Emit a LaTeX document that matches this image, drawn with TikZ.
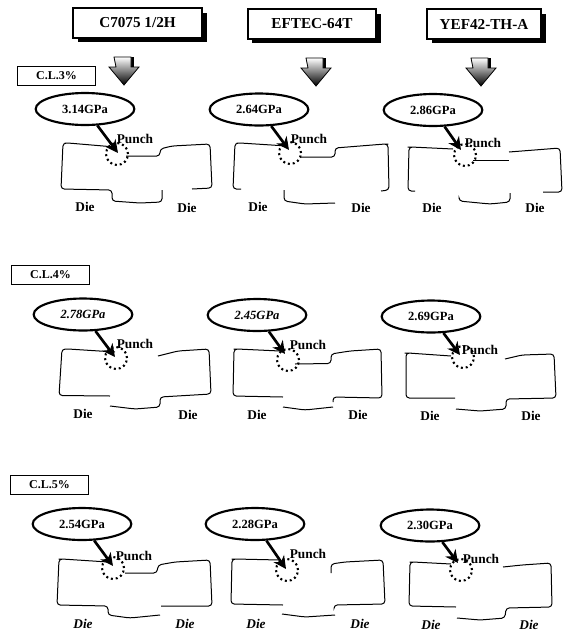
\documentclass[tikz,border=0pt]{standalone}
\usepackage{fontspec}
\setmainfont{Liberation Serif}
\usetikzlibrary{shapes.geometric,arrows.meta,shadows}
\tikzset{
  headbox/.style={draw,line width=1.4pt,fill=white,minimum height=22pt,inner sep=0pt,font=\fontsize{11.4}{12}\selectfont\bfseries,
    drop shadow={shadow xshift=3.5pt,shadow yshift=-3.5pt,opacity=1,fill=black}},
  clbox/.style={draw,line width=.7pt,fill=white,minimum width=58pt,minimum height=14.2pt,inner sep=0pt,font=\fontsize{9}{10}\selectfont\bfseries},
  gpa/.style={ellipse,draw,line width=1.6pt,fill=white,minimum width=74pt,minimum height=24pt,inner sep=0pt,font=\fontsize{9.4}{10}\selectfont\bfseries},
  spot/.style={circle,draw,line width=1.6pt,dash pattern=on 1.5pt off 2.2pt,minimum size=16.5pt,inner sep=0pt},
  lab/.style={inner sep=0pt,font=\fontsize{10}{11}\selectfont\bfseries},
  labi/.style={inner sep=0pt,font=\fontsize{10}{11}\selectfont\bfseries\itshape},
  outline/.style={line width=.75pt,rounded corners=2.5pt},
  conn/.style={line width=2pt,-{Stealth[length=9.5pt,width=9.5pt]}},
  blockarrow/.pic={
    \fill[black] (2,-29) -- (10,-29) -- (10,-18) -- (2,-18) -- cycle;
    \shade[top color=white,middle color=gray!45,bottom color=black,draw=black,line width=.6pt]
      (-10,-29) -- (7,-29) -- (7,-19) -- (15,-19) -- (0,-1) -- (-15,-19) -- (-8,-19) -- cycle;
  },
}
\begin{document}
\begin{tikzpicture}[x=.75pt,y=-.75pt]
\useasboundingbox (0,0) rectangle (573,643);
% headers
\node[headbox,minimum width=96.5pt] (h1) at (137.5,23) {C7075 1/2H};
\node[headbox,minimum width=96.5pt] (h2) at (312,24) {EFTEC-64T};
\node[headbox,minimum width=85.5pt] (h3) at (484,24) {YEF42-TH-A};
\pic at (124,86) {blockarrow};
\pic at (316,87) {blockarrow};
\pic at (481,87) {blockarrow};
% C.L. labels
\node[clbox] (cl3) at (56.5,76) {C.L.3\%};
\node[clbox] (cl4) at (50.5,274.5) {C.L.4\%};
\node[clbox] (cl5) at (49.5,485) {C.L.5\%};

% --- panel 1
\draw[outline] (115,147) -- (68,143) -- (63,143) -- (61,189) -- (112,190) -- (112,201) -- (140,203) -- (162,202) -- (162,190);
\draw[outline] (192,189) -- (212,188) -- (210,144) -- (172,146) -- (160,149) -- (160,156) -- (126,156);
\node[gpa] (e1) at (85,109) {3.14GPa};
\node[spot] (c1) at (117,154) {};
\coordinate (t1) at (118,153);
\draw[conn] (e1) -- (t1);
\node[lab] (p1) at (135,139) {Punch};
\node[lab] (d1a) at (85,207) {Die};
\node[lab] (d1b) at (187,208) {Die};
% --- panel 2
\draw[outline] (287,146) -- (240,143) -- (235,143) -- (233,189) -- (241,189);
\draw[outline] (284,190) -- (284,201) -- (305,204) -- (335,203);
\draw[outline] (300,157) -- (335,157) -- (335,148) -- (385,144) -- (388,144) -- (389,190) -- (381,191);
\node[gpa] (e2) at (259,109.5) {2.64GPa};
\node[spot] (c2) at (290,153) {};
\coordinate (t2) at (289,150);
\draw[conn] (e2) -- (t2);
\node[lab] (p2) at (309,139) {Punch};
\node[lab] (d2a) at (258,207) {Die};
\node[lab] (d2b) at (361,208) {Die};
% --- panel 3
\draw[outline] (453,149) -- (411,147) -- (409,147) -- (408,191) -- (415,191);
\draw[outline] (459,199) -- (459,201) -- (490,204) -- (510,202) -- (510,193);
\draw[outline] (473,160) -- (509,160);
\draw[outline] (509,152) -- (560,148) -- (562,192) -- (543,192);
\node[gpa] (e3) at (433,110) {2.86GPa};
\node[spot] (c3) at (465,155) {};
\coordinate (t3) at (461,150);
\draw[conn] (e3) -- (t3);
\node[lab] (p3) at (483,143) {Punch};
\node[lab] (d3a) at (432,208) {Die};
\node[lab] (d3b) at (535,208) {Die};

% --- panel 4
\draw[outline] (115,352) -- (68,349) -- (62,349) -- (59,395.5) -- (110,396);
\draw[outline] (110,406) -- (135,409) -- (160,407) -- (160,397) -- (211,394) -- (209,349) -- (178,351) -- (158,356);
\node[gpa] (e4) at (83,314.5) {\itshape 2.78GPa};
\node[spot] (c4) at (116,358) {};
\coordinate (t4) at (115,357);
\draw[conn] (e4) -- (t4);
\node[lab] (p4) at (135,344) {Punch};
\node[lab] (d4a) at (83,414) {Die};
\node[lab] (d4b) at (188,415) {Die};
% --- panel 5
\draw[outline] (280,351) -- (237,349) -- (234,349) -- (233,396) -- (283,397);
\draw[outline] (283,407) -- (305,410) -- (333,407);
\draw[outline] (333,402) -- (333,397) -- (382,398) -- (381,349) -- (350,351) -- (331,354) -- (331,363.5) -- (295,364);
\node[gpa] (e5) at (257,315) {\itshape 2.45GPa};
\node[spot] (c5) at (288,360) {};
\coordinate (t5) at (285,354);
\draw[conn] (e5) -- (t5);
\node[lab] (p5) at (308,345) {Punch};
\node[lab] (d5a) at (257,415) {Die};
\node[lab] (d5b) at (358,415) {Die};
% --- panel 6
\draw[outline] (451,356) -- (408,353) -- (406,353) -- (406,398) -- (455,398);
\draw[outline] (456,409) -- (480,411) -- (506,409) -- (506,399) -- (556,398) -- (554,354) -- (522,355) -- (505,359);
\node[gpa] (e6) at (431,316.5) {2.69GPa};
\node[spot] (c6) at (463,357) {};
\coordinate (t6) at (460,355);
\draw[conn] (e6) -- (t6);
\node[lab] (p6) at (480,350) {Punch};
\node[lab] (d6a) at (430,416) {Die};
\node[lab] (d6b) at (531,416) {Die};

% --- panel 7
\draw[outline] (108,562) -- (62,559) -- (59,559) -- (57,605) -- (108,606) -- (108,615) -- (130,618) -- (160,615);
\draw[outline] (161,606) -- (212,606) -- (210,560) -- (175,562) -- (158,565) -- (157,573) -- (125,573);
\node[gpa] (e7) at (82,524) {2.54GPa};
\node[spot] (c7) at (113,568) {};
\coordinate (t7) at (113,566);
\draw[conn] (e7) -- (t7);
\node[lab] (p7) at (134,556) {Punch};
\node[labi] (d7a) at (83,624) {Die};
\node[labi] (d7b) at (185,624) {Die};
% --- panel 8
\draw[outline] (280,560) -- (235,559) -- (232,559) -- (231,604) -- (283,605);
\draw[outline] (282,614) -- (305,617) -- (335,615);
\draw[outline] (334,608) -- (334,605) -- (385,604) -- (383,560) -- (345,562) -- (331,564) -- (331,573);
\node[gpa] (e8) at (255,524) {2.28GPa};
\node[spot] (c8) at (287,570) {};
\coordinate (t8) at (286,569);
\draw[conn] (e8) -- (t8);
\node[lab] (p8) at (308,554) {Punch};
\node[labi] (d8a) at (256,624) {Die};
\node[labi] (d8b) at (360,624) {Die};
% --- panel 9
\draw[outline] (451,564) -- (413,562) -- (410,562) -- (409,606) -- (456,607);
\draw[outline] (457,618) -- (480,620) -- (505,618) -- (506,608) -- (552,607) -- (551,563) -- (522,565) -- (503,567);
\node[gpa] (e9) at (430,525.5) {2.30GPa};
\node[spot] (c9) at (461,570) {};
\coordinate (t9) at (458,563);
\draw[conn] (e9) -- (t9);
\node[lab] (p9) at (481,559) {Punch};
\node[labi] (d9a) at (431,625) {Die};
\node[labi] (d9b) at (529,625) {Die};
\end{tikzpicture}
\end{document}
